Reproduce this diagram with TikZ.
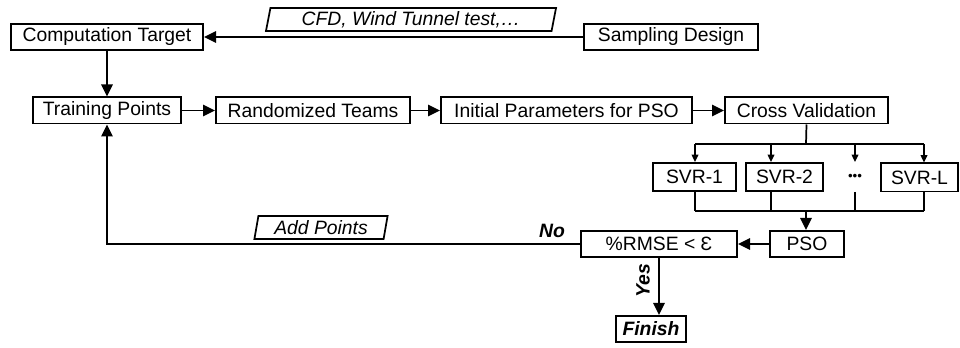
\documentclass[tikz,border=0pt]{standalone}
\usepackage{fontspec}
\setmainfont{Liberation Sans}
\usetikzlibrary{
    arrows.meta,
    shapes.geometric,
    calc
}
\tikzset {
    box/.style = {draw, line width = 1.3pt, inner sep = 0pt, minimum height = 19.7pt,
        font = \fontsize{14.5}{16}\selectfont},
    io box/.style = {
        box,
        trapezium,
        trapezium left angle = 78,
        trapezium right angle = 102,
        trapezium stretches = true,
        minimum height = 17.4pt,
        font = \fontsize{14.5}{16}\selectfont\itshape
    },
    svr box/.style = {box, minimum height = 21.2pt},
    answer/.style = {font = \fontsize{14.5}{16}\selectfont\bfseries\itshape},
    plain/.style = {line width = 1.3pt},
    flow/.style = {plain, -{Triangle[length = 9pt, width = 8.5pt]}},
    tap/.style = {line width = 1pt, -{Triangle[length = 5.5pt, width = 5pt]}},
}
\begin{document}
\begin{tikzpicture}[x = 0.75pt, y = -0.75pt]
    \useasboundingbox (0, 0) rectangle (960, 348);
    % top row
    \node (comp) [box, minimum width = 144.2pt] at (107, 37) {Computation Target};
    \node (samp) [box, minimum width = 130.7pt] at (671, 37) {Sampling Design};
    \node (cfd) [io box, minimum width = 217.7pt] at (411, 19.5) {CFD, Wind Tunnel test,…};
    % main row
    \node (train) [box, minimum width = 111.2pt] at (107, 110.5) {Training Points};
    \node (rand) [box, minimum width = 145.7pt] at (313, 110.5) {Randomized Teams};
    \node (init) [box, minimum width = 188.4pt] at (566.5, 110.5) {Initial Parameters for PSO};
    \node (cv) [box, minimum width = 122.4pt] at (806.5, 110.5) {Cross Validation};
    % models
    \node (svr1) [svr box, minimum width = 62.4pt] at (694.5, 177) {SVR-1};
    \node (svr2) [svr box, minimum width = 58pt] at (784.5, 177) {SVR-2};
    \node (dots) [svr box, draw = none, font = \fontsize{10}{12}\selectfont] at (855, 177) {•••};
    \node (svrl) [svr box, minimum width = 58pt] at (919.5, 177.5) {SVR-L};
    % check
    \node (pso) [box, minimum width = 55.7pt] at (807, 244) {PSO};
    \node (rmse) [box, minimum width = 117.2pt] at (659, 244) {\%RMSE < Ɛ};
    \node (finish) [box, answer, minimum width = 52.7pt] at (651, 329) {Finish};
    \node (addp) [io box, minimum width = 100.7pt] at (321, 227.5) {Add Points};
    \node (no) [answer] at (552, 231) {No};
    \node (yes) [answer, rotate = 90] at (643, 281) {Yes};
    \coordinate (fork) at (806, 144);
    \coordinate (join) at (806, 211);
    \coordinate (back) at (107, 244);

    \draw [flow] (samp) -- (comp);
    \draw [flow] (comp) -- (train);
    \draw [flow] (train) -- (rand);
    \draw [flow] (rand) -- (init);
    \draw [flow] (init) -- (cv);
    \draw [plain] (cv.south) -- (fork);
    \foreach \name/\tap in {svr1/695, svr2/771, dots/855, svrl/924} {
        \coordinate (top-\name) at (\tap, 144);
        \coordinate (bot-\name) at (\tap, 211);
        \draw [tap] (top-\name) -- (top-\name |- \name.north);
        \draw [line width = 1pt] (bot-\name |- \name.south) -- (bot-\name);
    }
    \draw [plain] (top-svr1) -- (top-svrl);
    \draw [plain] (bot-svr1) -- (bot-svrl);
    \draw [flow] (join) -- (join |- pso.north);
    \draw [flow] (pso) -- (rmse);
    \draw [flow] (rmse.west) -- (back) -- (train.south);
    \draw [flow] (rmse.south) -- (rmse.south |- finish.north);
\end{tikzpicture}
\end{document}
